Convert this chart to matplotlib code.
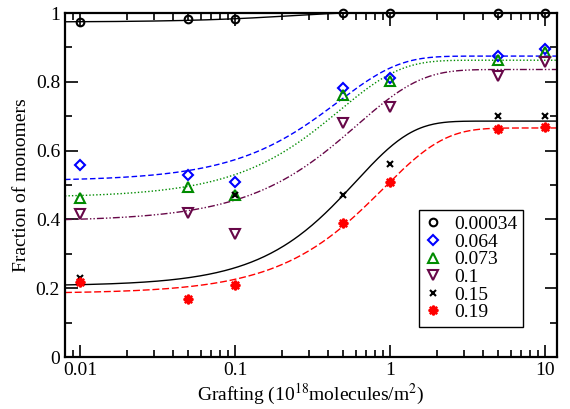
import numpy as np
import matplotlib
matplotlib.use("Agg")
import matplotlib.pyplot as plt
from matplotlib.ticker import FixedLocator, NullFormatter

# grafting density (10^18 molecules/m^2)
grafting = [0.01, 0.05, 0.1, 0.5, 1, 5, 10]

# fraction of monomers for each series
frac_00034 = [0.974, 0.983, 0.983, 1.0, 1.0, 1.0, 1.0]
frac_064 = [0.558, 0.529, 0.509, 0.783, 0.812, 0.875, 0.895]
frac_073 = [0.462, 0.494, 0.471, 0.762, 0.803, 0.863, 0.888]
frac_01 = [0.416, 0.419, 0.358, 0.680, 0.728, 0.817, 0.858]
frac_015 = [0.230, np.nan, 0.472, 0.470, 0.561, 0.700, 0.700]
frac_019 = [0.219, 0.169, 0.209, 0.390, 0.509, 0.662, 0.669]

labels = ["0.00034", "0.064", "0.073", "0.1", "0.15", "0.19"]

# fitted curves: y = low + (high - low) * (1 - exp(-(x/x0)^n))
fit_low = [0.974, 0.512, 0.464, 0.395, 0.207, 0.185]
fit_high = [1.003, 0.875, 0.863, 0.836, 0.686, 0.666]
fit_x0 = [0.23, 0.46, 0.47, 0.61, 0.60, 0.90]
fit_n = [1.1, 1.1, 1.1, 1.05, 1.2, 1.1]

xticks = [0.01, 0.1, 1, 10]
xtick_labels = ['0.01', '0.1', '1', '10']
yticks = [0, 0.2, 0.4, 0.6, 0.8, 1.0]
ytick_labels = ['0', '0.2', '0.4', '0.6', '0.8', '1']

plt.rcParams['font.family'] = ['Liberation Serif', 'DejaVu Serif']
plt.rcParams['mathtext.fontset'] = 'stix'
plt.rcParams['font.size'] = 14

colors = ['black', 'blue', '#008b00', '#670748', 'black', 'red']
markers = ['o', 'D', '^', 'v', 'x', (8, 1, 0)]
msizes = [5.5, 5.5, 7, 7, 5, 7]
linestyles = ['-', (0, (4, 2)), (0, (1, 1.5)), (0, (5, 1.5, 1, 1.5, 1, 1.5)), '-', (0, (5, 2))]
series = [frac_00034, frac_064, frac_073, frac_01, frac_015, frac_019]

fig = plt.figure(figsize=(5.7, 4.09), dpi=100)
ax = fig.add_axes([0.114, 0.127, 0.863, 0.841])

xs = np.logspace(np.log10(0.008), np.log10(12), 300)
for i in range(6):
    ys = fit_low[i] + (fit_high[i] - fit_low[i]) * (1 - np.exp(-(xs / fit_x0[i]) ** fit_n[i]))
    ax.plot(xs, ys, color=colors[i], linestyle=linestyles[i], linewidth=1.0)

handles = []
for i in range(6):
    filled = markers[i] in ('x', (8, 1, 0))
    h, = ax.plot(grafting, series[i], linestyle='none', marker=markers[i],
                 markersize=msizes[i], color=colors[i],
                 markerfacecolor=colors[i] if filled else 'none',
                 markeredgewidth=1.5, clip_on=False, zorder=5)
    handles.append(h)

ax.set_xscale('log')
ax.set_xlim(0.008, 11.9)
ax.set_ylim(0, 1)

ax.xaxis.set_major_locator(FixedLocator(xticks))
ax.set_xticklabels(xtick_labels)
minor = [m * d for d in [0.001, 0.01, 0.1, 1, 10] for m in range(2, 10)]
ax.xaxis.set_minor_locator(FixedLocator(minor))
ax.xaxis.set_minor_formatter(NullFormatter())
ax.yaxis.set_major_locator(FixedLocator(yticks))
ax.set_yticklabels(ytick_labels)
ax.yaxis.set_minor_locator(FixedLocator([0.1, 0.3, 0.5, 0.7, 0.9]))

ax.tick_params(which='both', direction='in', top=True, right=True, width=1.2)
ax.tick_params(which='major', length=9)
ax.tick_params(which='minor', length=5)
for s in ax.spines.values():
    s.set_linewidth(1.6)

ax.set_xlabel('Grafting (10$^{18}$molecules/m$^{2}$)', labelpad=2)
ax.set_ylabel('Fraction of monomers', labelpad=4)

leg = ax.legend(handles, labels, loc='lower left', bbox_to_anchor=(0.72, 0.087),
                fancybox=False, edgecolor='black', framealpha=1,
                handlelength=0.8, handletextpad=0.7, labelspacing=0.0,
                borderpad=0.3, borderaxespad=0, fontsize=14)
leg.get_frame().set_linewidth(1.0)

fig.savefig('out.png', dpi=100)
